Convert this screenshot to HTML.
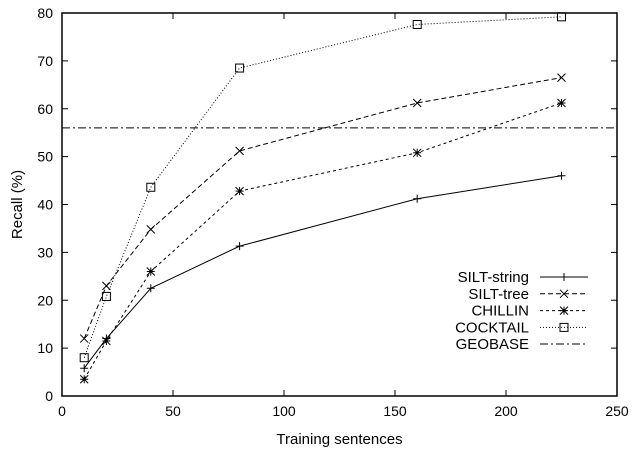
<!DOCTYPE html>
<html><head><meta charset="utf-8"><style>body{margin:0;background:#fff}svg{display:block;font-family:"Liberation Sans",sans-serif}</style></head>
<body>
<svg id="c" width="635" height="451"></svg>
<script>
const xs = [10, 20, 40, 80, 160, 225];
const siltString = [5.8, 12, 22.5, 31.3, 41.2, 46];
const siltTree = [12, 23, 34.8, 51.2, 61.2, 66.5];
const chillin = [3.5, 11.5, 26, 42.8, 50.8, 61.2];
const cocktail = [8, 20.8, 43.6, 68.5, 77.6, 79.2];
const geobase = 56;
const xTicks = [0, 50, 100, 150, 200, 250];
const yTicks = [0, 10, 20, 30, 40, 50, 60, 70, 80];
const L=62,R=617,T=13,B=396;
const X=v=>L+(v/250)*(R-L), Y=v=>B-(v/80)*(B-T);
const svg=document.getElementById('c');
const NS='http://www.w3.org/2000/svg';
function el(t,a,p){const e=document.createElementNS(NS,t);for(const k in a)e.setAttribute(k,a[k]);(p||svg).appendChild(e);return e;}
xTicks.forEach(v=>{
  const g=el('g',{});
  
  
  el('line',{x1:X(v),x2:X(v),y1:B,y2:B-6,stroke:'#000'},g);
  el('line',{x1:X(v),x2:X(v),y1:T,y2:T+6,stroke:'#000'},g);
  const t=el('text',{x:X(v),y:B+20,'text-anchor':'middle','font-size':14},g);t.textContent=v;
});
yTicks.forEach(v=>{
  const g=el('g',{});
  
  
  el('line',{x1:L,x2:L+6,y1:Y(v),y2:Y(v),stroke:'#000'},g);
  el('line',{x1:R,x2:R-6,y1:Y(v),y2:Y(v),stroke:'#000'},g);
  const t=el('text',{x:L-9,y:Y(v)+5,'text-anchor':'end','font-size':14},g);t.textContent=v;
});
const fr=el('rect',{x:L,y:T,width:R-L,height:B-T,fill:'none',stroke:'#000','stroke-width':1.5});


let t=el('text',{x:(L+R)/2,y:444,'text-anchor':'middle','font-size':15});t.textContent='Training sentences';


t=el('text',{x:0,y:0,'text-anchor':'middle','font-size':15,transform:`translate(22,${(T+B)/2}) rotate(-90)`});t.textContent='Recall (%)';


function marker(kind,x,y,g){
  const s=4;
  if(kind==='plus'){el('path',{d:`M${x-s} ${y}H${x+s}M${x} ${y-s}V${y+s}`,stroke:'#000',fill:'none'},g);}
  if(kind==='x'){el('path',{d:`M${x-s} ${y-s}L${x+s} ${y+s}M${x-s} ${y+s}L${x+s} ${y-s}`,stroke:'#000',fill:'none'},g);}
  if(kind==='star'){el('path',{d:`M${x-s} ${y}H${x+s}M${x} ${y-s}V${y+s}M${x-s} ${y-s}L${x+s} ${y+s}M${x-s} ${y+s}L${x+s} ${y-s}`,stroke:'#000',fill:'none'},g);}
  if(kind==='sq'){el('rect',{x:x-s,y:y-s,width:2*s,height:2*s,stroke:'#000',fill:'none'},g);}
}
const series=[
 {name:'SILT-string',vals:siltString,dash:'',m:'plus'},
 {name:'SILT-tree',vals:siltTree,dash:'5,3',m:'x'},
 {name:'CHILLIN',vals:chillin,dash:'3,3',m:'star'},
 {name:'COCKTAIL',vals:cocktail,dash:'1,2',m:'sq'},
];
series.forEach((s,i)=>{
  const g=el('g',{});
  
  
  el('polyline',{points:xs.map((x,j)=>X(x)+','+Y(s.vals[j])).join(' '),fill:'none',stroke:'#000','stroke-dasharray':s.dash},g);
  xs.forEach((x,j)=>marker(s.m,X(x),Y(s.vals[j]),g));
  const ly=277+i*16.8;
  const lg=el('g',{});
  
  
  const tx=el('text',{x:529,y:ly+5,'text-anchor':'end','font-size':15},lg);tx.textContent=s.name;
  el('line',{x1:540,x2:588,y1:ly,y2:ly,stroke:'#000','stroke-dasharray':s.dash},lg);
  marker(s.m,564,ly,lg);
});
const gg=el('g',{});


el('line',{x1:L,x2:R,y1:Y(geobase),y2:Y(geobase),stroke:'#000','stroke-dasharray':'8,3,2,3'},gg);
const lg=el('g',{});


const tx=el('text',{x:529,y:344+5,'text-anchor':'end','font-size':15},lg);tx.textContent='GEOBASE';
el('line',{x1:540,x2:588,y1:344,y2:344,stroke:'#000','stroke-dasharray':'8,3,2,3'},lg);
</script>
</body></html>
